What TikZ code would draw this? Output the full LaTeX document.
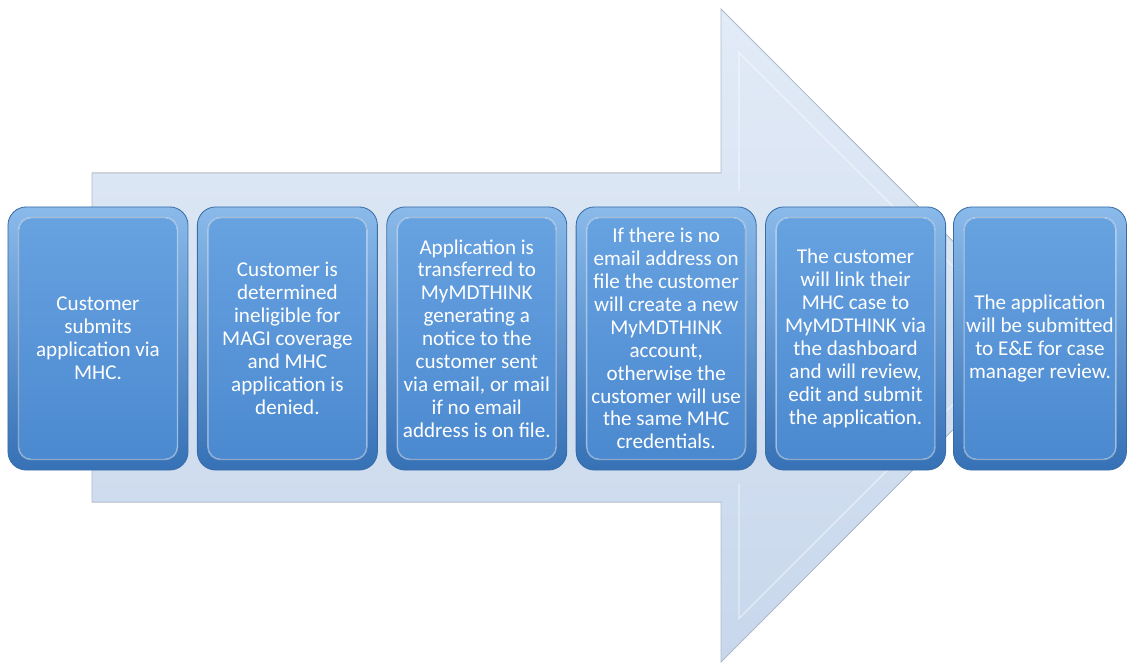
\documentclass[tikz,border=0pt]{standalone}
\usepackage{fontspec}
\setmainfont{Carlito}
\usepackage{tikz}
\usetikzlibrary{positioning}
\definecolor{flowTop}{HTML}{E2EBF7}
\definecolor{flowBottom}{HTML}{C8D7EC}
\definecolor{flowEdge}{HTML}{AEBACA}
\definecolor{ringTop}{HTML}{8ABAEA}
\definecolor{ringBottom}{HTML}{3671B6}
\definecolor{faceTop}{HTML}{68A3E1}
\definecolor{faceBottom}{HTML}{4A88CF}
\definecolor{boxEdge}{HTML}{3A6DA6}

\begin{document}
\begin{tikzpicture}[
  x=0.025cm, y=-0.025cm,
  every node/.style={font=\fontsize{15}{16.3}\selectfont},
  stepbox/.style={
    rectangle, rounded corners=13pt,
    minimum width=4.5cm, minimum height=6.575cm, inner sep=0pt,
    draw=boxEdge, line width=0.6pt,
    top color=ringTop, bottom color=ringBottom,
    text=white, align=center,
    path picture={
      \fill[rounded corners=9pt, top color=faceTop, bottom color=faceBottom]
        ([shift={(7.5pt,-7.5pt)}]path picture bounding box.north west)
        rectangle ([shift={(-7.5pt,7.5pt)}]path picture bounding box.south east);
      \draw[white, opacity=.45, line width=1pt, rounded corners=9pt]
        ([shift={(7.5pt,-7.5pt)}]path picture bounding box.north west)
        rectangle ([shift={(-7.5pt,7.5pt)}]path picture bounding box.south east);
    }
  },
]
\useasboundingbox (0,0) rectangle (1127,663);

% Backdrop arrow
\filldraw[draw=flowEdge, line width=0.6pt, top color=flowTop, bottom color=flowBottom]
  (92,173) -- (721,173) -- (721,9) -- (1047,335.5) -- (721,662) -- (721,502)
  -- (92,502) -- cycle;
\draw[white, opacity=.5, line width=0.8pt]
  (739,191) -- (739,52.5) -- (1022,335.5) -- (739,618.5) -- (739,484);

% Steps
\node[stepbox] (submit) at (98,338.5) {Customer\\submits\\application via\\MHC.};
\node[stepbox, right=8.5*0.025cm of submit] (deny) {Customer is\\determined\\ineligible for\\MAGI coverage\\and MHC\\application is\\denied.};
\node[stepbox, right=8.5*0.025cm of deny] (transfer) {Application is\\transferred to\\MyMDTHINK\\generating a\\notice to the\\customer sent\\via email, or mail\\if no email\\address is on file.};
\node[stepbox, right=8.5*0.025cm of transfer] (account) {If there is no\\email address on\\file the customer\\will create a new\\MyMDTHINK\\account,\\otherwise the\\customer will use\\the same MHC\\credentials.};
\node[stepbox, right=8.5*0.025cm of account] (link) {The customer\\will link their\\MHC case to\\MyMDTHINK via\\the dashboard\\and will review,\\edit and submit\\the application.};
\node[stepbox, right=7*0.025cm of link, minimum width=4.325cm] (review) {The application\\will be submitted\\to E\&E for case\\manager review.};

\end{tikzpicture}
\end{document}
